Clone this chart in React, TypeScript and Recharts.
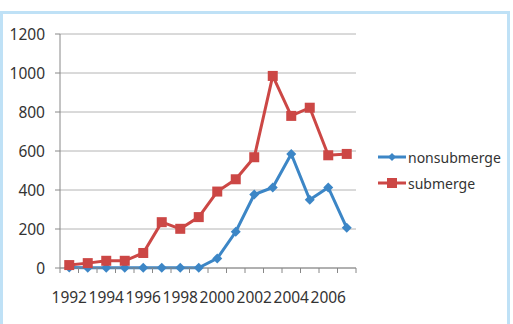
import { LineChart, Line, XAxis, YAxis, CartesianGrid } from 'recharts'

const years = [1992, 1993, 1994, 1995, 1996, 1997, 1998, 1999, 2000, 2001, 2002, 2003, 2004, 2005, 2006, 2007]
const nonsubmerge = [2, 1, 1, 1, 1, 1, 1, 1, 49, 186, 377, 413, 585, 350, 413, 206]
const submerge = [15, 25, 37, 37, 77, 235, 201, 261, 392, 455, 568, 985, 780, 822, 578, 585]
const yTicks = [0, 200, 400, 600, 800, 1000, 1200]
const labelYears = [1992, 1994, 1996, 1998, 2000, 2002, 2004, 2006]

const BLUE = '#3c86c6'
const RED = '#cc4745'
const FONT = '"Noto Sans", "DejaVu Sans", sans-serif'
const TICK_SIZE = 15.5

const data = years.map((y, i) => ({ year: y, nonsubmerge: nonsubmerge[i], submerge: submerge[i] }))

// label ticks on even years, boundary marks between categories
const boundaries = [...years.map(y => y - 0.5), years[years.length - 1] + 0.5]
const xTicks = [...boundaries, ...labelYears].sort((a, b) => a - b)

const Diamond = (props: any) => {
  const { cx, cy } = props
  if (cx == null || cy == null) return null
  return <polygon points={`${cx},${cy - 5} ${cx + 5},${cy} ${cx},${cy + 5} ${cx - 5},${cy}`} fill={BLUE} />
}

const Square = (props: any) => {
  const { cx, cy } = props
  if (cx == null || cy == null) return null
  return <rect x={cx - 5} y={cy - 5} width={10} height={10} fill={RED} />
}

const XTick = (props: any) => {
  const { x, y, payload } = props
  const v = payload.value
  if (!Number.isInteger(v)) {
    return <line x1={x} x2={x} y1={y} y2={y + 5} stroke="#888" strokeWidth={1} />
  }
  return (
    <text x={x} y={y + 35} textAnchor="middle" fill="#333" fontSize={TICK_SIZE} fontFamily={FONT}>
      {v}
    </text>
  )
}

const legendItems = [
  { name: 'nonsubmerge', color: BLUE, marker: 'diamond' },
  { name: 'submerge', color: RED, marker: 'square' },
]

function ChartLegend() {
  return (
    <div style={{ position: 'absolute', left: 377, top: 144, fontFamily: FONT, fontSize: 14, color: '#333' }}>
      {legendItems.map(item => (
        <div key={item.name} style={{ display: 'flex', alignItems: 'center', height: 26 }}>
          <svg width={30} height={14}>
            <line x1={1} x2={29} y1={7} y2={7} stroke={item.color} strokeWidth={3} />
            {item.marker === 'diamond'
              ? <polygon points="15,3 19,7 15,11 11,7" fill={item.color} />
              : <rect x={10} y={2} width={10} height={10} fill={item.color} />}
          </svg>
          <span style={{ marginLeft: 1 }}>{item.name}</span>
        </div>
      ))}
    </div>
  )
}

export default function App() {
  return (
    <div style={{ position: 'fixed', left: 0, top: 0, width: 513, height: 324, overflow: 'hidden', background: '#fff' }}>
      <div style={{
        position: 'absolute', left: 0, top: 11, width: 510, height: 340,
        border: '3px solid #bfe1f6', boxSizing: 'border-box',
      }} />
      <div style={{ position: 'absolute', left: 0, top: 0 }}>
        <LineChart width={513} height={324} data={data} margin={{ top: 34, right: 157, bottom: 0, left: 0 }}>
          <CartesianGrid vertical={false} stroke="#b4b4b4" />
          <XAxis
            dataKey="year"
            type="number"
            domain={[1991.5, 2007.5]}
            ticks={xTicks}
            interval={0}
            tickLine={false}
            tickSize={0}
            tickMargin={0}
            tick={<XTick />}
            stroke="#888"
            height={56}
          />
          <YAxis
            domain={[0, 1200]}
            ticks={yTicks}
            width={60}
            tickSize={5}
            tickMargin={10}
            stroke="#888"
            tick={{ fill: '#333', fontSize: TICK_SIZE, fontFamily: FONT }}
          />
          <Line dataKey="nonsubmerge" stroke={BLUE} strokeWidth={3} dot={<Diamond />} activeDot={false} isAnimationActive={false} />
          <Line dataKey="submerge" stroke={RED} strokeWidth={3} dot={<Square />} activeDot={false} isAnimationActive={false} />
        </LineChart>
      </div>
      <ChartLegend />
    </div>
  )
}
